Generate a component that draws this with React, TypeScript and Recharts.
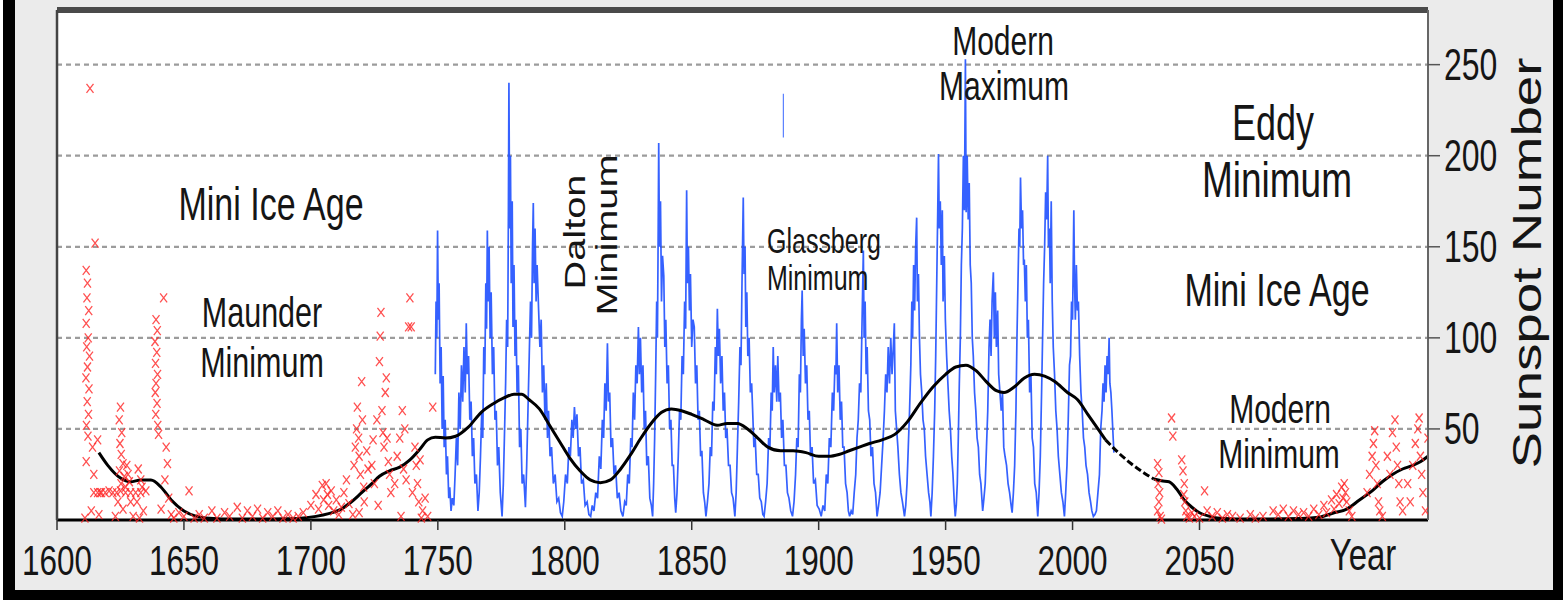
import React from 'react';
import {
  ComposedChart,
  Line,
  Scatter,
  XAxis,
  YAxis,
  CartesianGrid,
  ReferenceLine,
} from 'recharts';

// x ticks (years) and right-hand y ticks (sunspot number)
const yearTicks = [1600, 1650, 1700, 1750, 1800, 1850, 1900, 1950, 2000, 2050];
const sunspotTicks = [50, 100, 150, 200, 250];
const leftTicks = [0, 50, 100, 150, 200, 250];

const observed: [number, number][] = [
  [1749.0, 80], [1749.3, 120], [1749.6, 100], [1749.9, 159], [1750.2, 110], [1750.5, 130], [1750.9, 75], [1751.3, 95], [1751.7, 50], [1752.1, 79], [1752.5, 40], [1752.9, 55], [1753.4, 25], [1753.8, 35], [1754.3, 12], [1754.7, 18], [1755.2, 5],
  [1755.7, 12], [1756.3, 8], [1756.8, 25], [1757.3, 45], [1757.8, 30], [1758.3, 70], [1758.8, 50], [1759.3, 85], [1759.8, 65], [1760.3, 95], [1760.8, 70], [1761.2, 108], [1761.6, 80], [1762.1, 90], [1762.6, 55], [1763.1, 65], [1763.6, 35], [1764.1, 45], [1764.6, 20], [1765.2, 25], [1765.8, 5],
  [1766.3, 15], [1766.8, 35], [1767.3, 60], [1767.7, 45], [1768.1, 95], [1768.5, 80], [1768.9, 130], [1769.2, 105], [1769.5, 159], [1769.8, 120], [1770.2, 150], [1770.6, 100], [1771.0, 125], [1771.5, 80], [1772.0, 95], [1772.5, 55], [1773.0, 60], [1773.5, 30], [1774.0, 40], [1774.6, 15], [1775.3, 2],
  [1775.8, 20], [1776.3, 50], [1776.7, 75], [1777.1, 110], [1777.5, 95], [1777.8, 170], [1778.0, 240], [1778.3, 160], [1778.6, 200], [1778.9, 130], [1779.3, 175], [1779.6, 106], [1780.0, 140], [1780.4, 90], [1780.8, 110], [1781.2, 70], [1781.7, 85], [1782.2, 40], [1782.7, 50], [1783.2, 20], [1783.8, 25], [1784.5, 7],
  [1785.0, 30], [1785.5, 60], [1786.0, 90], [1786.5, 120], [1786.9, 100], [1787.3, 150], [1787.6, 174], [1787.9, 130], [1788.3, 160], [1788.7, 120], [1789.1, 140], [1789.7, 115], [1790.2, 95], [1790.7, 110], [1791.2, 70], [1791.7, 85], [1792.2, 55], [1792.7, 75], [1793.2, 45], [1793.6, 60], [1794.2, 35], [1794.8, 40], [1795.5, 20], [1796.2, 25], [1796.9, 10], [1797.6, 12], [1798.3, 4], [1799.0, 2],
  [1799.6, 10], [1800.3, 25], [1801.0, 20], [1801.6, 40], [1802.2, 35], [1802.8, 55], [1803.3, 45], [1803.8, 62], [1804.3, 50], [1804.8, 58], [1805.4, 35], [1806.0, 40], [1806.6, 20], [1807.3, 22], [1808.0, 8], [1808.8, 10], [1809.5, 3], [1810.2, 2],
  [1810.8, 8], [1811.5, 5], [1812.2, 15], [1812.9, 12], [1813.6, 35], [1814.2, 28], [1814.8, 55], [1815.3, 45], [1815.8, 75], [1816.3, 60], [1816.8, 97], [1817.2, 65], [1817.7, 70], [1818.2, 40], [1818.8, 45], [1819.4, 25], [1820.0, 30], [1820.7, 12], [1821.4, 15], [1822.1, 5], [1822.9, 2],
  [1823.6, 10], [1824.2, 8], [1824.8, 25], [1825.4, 20], [1826.0, 45], [1826.5, 40], [1827.0, 70], [1827.5, 55], [1828.0, 85], [1828.5, 75], [1829.0, 106], [1829.4, 80], [1829.8, 100], [1830.3, 70], [1830.8, 85], [1831.3, 50], [1831.8, 60], [1832.3, 30], [1832.9, 35], [1833.5, 12], [1834.1, 8], [1834.6, 2],
  [1835.0, 20], [1835.4, 45], [1835.8, 80], [1836.2, 120], [1836.5, 100], [1836.8, 160], [1837.0, 207], [1837.3, 150], [1837.7, 175], [1838.1, 120], [1838.5, 145], [1839.0, 134], [1839.4, 95], [1839.8, 110], [1840.3, 75], [1840.8, 85], [1841.3, 50], [1841.8, 55], [1842.3, 30], [1842.8, 30], [1843.3, 12], [1843.7, 4],
  [1844.2, 15], [1844.7, 35], [1845.2, 60], [1845.7, 55], [1846.2, 90], [1846.7, 80], [1847.2, 120], [1847.6, 105], [1848.0, 181], [1848.3, 130], [1848.7, 150], [1849.1, 115], [1849.5, 135], [1850.0, 95], [1850.5, 110], [1851.0, 106], [1851.5, 75], [1852.0, 85], [1852.5, 55], [1853.0, 60], [1853.5, 35], [1854.0, 38], [1854.6, 15], [1855.1, 10], [1855.6, 2],
  [1856.2, 10], [1856.8, 20], [1857.3, 40], [1857.8, 35], [1858.3, 65], [1858.8, 60], [1859.3, 95], [1859.7, 80], [1860.1, 116], [1860.5, 90], [1860.9, 105], [1861.4, 75], [1861.9, 90], [1862.4, 60], [1862.9, 70], [1863.4, 45], [1863.9, 50], [1864.5, 30], [1865.1, 30], [1865.7, 15], [1866.3, 12], [1867.0, 2],
  [1867.5, 15], [1868.0, 40], [1868.5, 65], [1869.0, 95], [1869.4, 85], [1869.8, 130], [1870.3, 177], [1870.6, 135], [1871.0, 150], [1871.3, 106], [1871.7, 125], [1872.1, 90], [1872.6, 100], [1873.1, 70], [1873.6, 75], [1874.0, 60], [1874.5, 40], [1875.0, 45], [1875.6, 25], [1876.2, 25], [1876.8, 12], [1877.4, 10], [1878.0, 3], [1878.5, 2],
  [1879.1, 10], [1879.7, 20], [1880.3, 45], [1880.8, 40], [1881.3, 70], [1881.7, 60], [1882.1, 95], [1882.5, 70], [1883.0, 85], [1883.5, 65], [1883.9, 90], [1884.4, 65], [1884.9, 70], [1885.4, 45], [1885.9, 55], [1886.5, 30], [1887.1, 30], [1887.7, 15], [1888.3, 12], [1889.0, 5], [1889.7, 2],
  [1890.3, 10], [1890.9, 25], [1891.4, 45], [1891.9, 40], [1892.4, 80], [1892.8, 70], [1893.2, 110], [1893.5, 126], [1893.9, 90], [1894.3, 105], [1894.8, 75], [1895.3, 85], [1895.8, 55], [1896.3, 60], [1896.8, 35], [1897.4, 40], [1898.0, 20], [1898.7, 22], [1899.4, 8], [1900.2, 6], [1901.0, 2],
  [1901.7, 8], [1902.4, 5], [1903.0, 25], [1903.6, 20], [1904.2, 45], [1904.8, 40], [1905.4, 70], [1905.9, 60], [1906.4, 85], [1906.8, 80], [1907.1, 108], [1907.5, 70], [1908.0, 85], [1908.5, 55], [1909.0, 65], [1909.5, 40], [1910.0, 40], [1910.6, 20], [1911.2, 15], [1911.7, 5], [1912.2, 2],
  [1912.8, 5], [1913.4, 3], [1914.0, 15], [1914.6, 25], [1915.1, 45], [1915.6, 55], [1916.1, 75], [1916.6, 70], [1917.1, 110], [1917.6, 148], [1917.9, 100], [1918.3, 120], [1918.7, 80], [1919.1, 95], [1919.6, 60], [1920.1, 55], [1920.6, 35], [1921.2, 40], [1921.8, 20], [1922.4, 15], [1923.0, 2],
  [1923.6, 8], [1924.2, 15], [1924.8, 30], [1925.4, 45], [1925.9, 60], [1926.4, 80], [1926.9, 70], [1927.4, 95], [1927.9, 75], [1928.4, 100], [1928.9, 80], [1929.4, 95], [1929.8, 108], [1930.2, 60], [1930.7, 50], [1931.2, 40], [1931.8, 25], [1932.4, 15], [1933.0, 10], [1933.8, 2],
  [1934.3, 8], [1934.8, 20], [1935.3, 40], [1935.8, 60], [1936.3, 85], [1936.7, 120], [1937.0, 100], [1937.4, 140], [1937.8, 115], [1938.2, 150], [1938.6, 166], [1938.9, 120], [1939.3, 135], [1939.7, 100], [1940.1, 80], [1940.6, 70], [1941.1, 55], [1941.6, 50], [1942.1, 35], [1942.7, 25], [1943.3, 15], [1943.8, 10], [1944.2, 2],
  [1944.7, 15], [1945.2, 35], [1945.7, 60], [1946.1, 90], [1946.5, 130], [1946.9, 170], [1947.2, 201], [1947.5, 160], [1947.9, 175], [1948.3, 140], [1948.7, 170], [1949.0, 120], [1949.5, 145], [1949.9, 110], [1950.4, 90], [1950.9, 75], [1951.4, 60], [1951.9, 50], [1952.4, 35], [1952.9, 25], [1953.4, 10], [1953.8, 2],
  [1954.2, 8], [1954.6, 20], [1955.0, 45], [1955.4, 75], [1955.8, 100], [1956.2, 140], [1956.6, 160], [1957.0, 200], [1957.4, 170], [1957.8, 253], [1958.1, 169], [1958.5, 200], [1958.9, 165], [1959.3, 185], [1959.7, 140], [1960.1, 130], [1960.5, 100], [1960.9, 90], [1961.4, 70], [1961.9, 60], [1962.4, 45], [1962.9, 40], [1963.4, 25], [1963.9, 20], [1964.6, 5],
  [1965.1, 12], [1965.6, 20], [1966.1, 40], [1966.6, 60], [1967.1, 95], [1967.5, 110], [1967.9, 90], [1968.3, 120], [1968.8, 136], [1969.2, 100], [1969.6, 125], [1970.0, 95], [1970.5, 115], [1970.9, 80], [1971.4, 70], [1971.9, 60], [1972.4, 70], [1972.9, 40], [1973.4, 35], [1974.0, 30], [1974.6, 20], [1975.2, 15], [1975.8, 8], [1976.2, 4],
  [1976.7, 15], [1977.2, 30], [1977.7, 60], [1978.1, 100], [1978.5, 130], [1978.9, 160], [1979.2, 150], [1979.5, 188], [1979.9, 160], [1980.3, 170], [1980.7, 140], [1981.0, 143], [1981.4, 120], [1981.8, 140], [1982.2, 100], [1982.6, 110], [1983.1, 70], [1983.6, 80], [1984.1, 45], [1984.6, 40], [1985.1, 20], [1985.7, 15], [1986.3, 2],
  [1986.8, 15], [1987.3, 35], [1987.8, 70], [1988.2, 100], [1988.6, 130], [1989.0, 150], [1989.4, 180], [1989.8, 165], [1990.2, 200], [1990.5, 150], [1990.9, 160], [1991.2, 130], [1991.6, 175], [1992.0, 120], [1992.4, 95], [1992.9, 80], [1993.4, 60], [1993.9, 50], [1994.4, 35], [1995.0, 25], [1995.6, 15], [1996.2, 10], [1996.8, 2],
  [1997.3, 15], [1997.8, 30], [1998.3, 55], [1998.8, 85], [1999.2, 90], [1999.6, 120], [2000.0, 110], [2000.5, 170], [2000.8, 130], [2001.1, 110], [2001.5, 140], [2001.9, 115], [2002.3, 120], [2002.8, 90], [2003.3, 70], [2003.8, 60], [2004.3, 45], [2004.8, 40], [2005.3, 30], [2005.9, 25], [2006.5, 15], [2007.1, 10], [2007.6, 5], [2008.2, 2],
  [2008.8, 3], [2009.4, 5], [2010.0, 15], [2010.6, 25], [2011.1, 50], [2011.6, 60], [2012.0, 75], [2012.4, 65], [2012.8, 85], [2013.2, 70], [2013.6, 90], [2014.0, 80], [2014.4, 100], [2014.7, 75], [2015.1, 70], [2015.5, 60], [2016.0, 45], [2016.3, 37],
];

// stray vertical stroke near 1886
const strayStroke: [number, number][] = [[1886.1, 210], [1886.1, 234]];

// reconstructed / forecast values (red crosses)
const reconstructed: [number, number][] = [
  [1613, 237], [1615, 152], [1611.5, 137], [1612, 130], [1611.8, 122], [1612.5, 115], [1611.5, 108], [1612.3, 100], [1611.7, 95], [1612.8, 90], [1612, 84], [1611.4, 78], [1612.6, 72], [1611.9, 65], [1612.4, 58], [1611.6, 52], [1612.2, 46], [1614, 40], [1611.5, 32], [1616, 44], [1614.5, 25], [1617, 15], [1613.5, 5], [1616.5, 3], [1611, 1],
  [1614.5, 15], [1616, 15], [1617.5, 15], [1619, 15], [1620.5, 16], [1622, 15], [1623.5, 15], [1625, 16], [1627, 15], [1629, 15], [1631, 15], [1633, 15], [1635, 16],
  [1625, 62], [1624.5, 55], [1625.5, 48], [1624.8, 42], [1625.3, 36], [1626, 31], [1624.6, 27], [1626.5, 24], [1625.2, 20], [1627, 18], [1624, 10], [1626, 6], [1623, 2], [1627.5, 30], [1628, 25], [1628.5, 21], [1629, 10],
  [1632, 28], [1633, 22], [1633.5, 18], [1631.5, 10], [1634, 5], [1630, 2], [1632.5, 1],
  [1642, 122], [1639, 110], [1639.5, 104], [1638.6, 98], [1639.3, 92], [1638.8, 86], [1639.6, 80], [1639, 75], [1638.7, 70], [1639.4, 64], [1638.9, 58], [1639.7, 52], [1640, 47], [1643, 40], [1643.5, 31], [1642.5, 22], [1644, 12], [1641, 6], [1645, 3], [1646, 1], [1648, 4],
  [1652, 16], [1650, 2], [1654, 1], [1656, 3], [1658, 1], [1661, 5], [1663, 1], [1666, 4], [1668, 2], [1671, 7], [1673, 1], [1675, 5], [1677, 2], [1679, 6], [1681, 1], [1683, 4], [1685, 2], [1687, 5], [1689, 1], [1691, 3], [1693, 1], [1695, 2], [1697, 4],
  [1700, 8], [1702, 14], [1703, 6], [1704.5, 19], [1705, 11], [1706, 20], [1706.5, 14], [1707, 8], [1708, 16], [1709, 5], [1710, 11], [1711, 3], [1712, 7], [1713, 15], [1714, 22], [1715, 9],
  [1717, 30], [1717.5, 40], [1718, 50], [1718.3, 62], [1718.8, 45], [1719, 35], [1719.5, 25], [1720, 76], [1720.3, 55], [1720.8, 18], [1721, 10], [1722, 38], [1722.5, 28], [1716.5, 3], [1719, 4],
  [1724, 30], [1724.5, 44], [1725, 20], [1726, 55], [1727, 87], [1727.3, 101], [1727.6, 114], [1728, 60], [1728.4, 48], [1728.8, 40], [1729.3, 70], [1729.7, 78], [1730, 45], [1730.5, 32], [1731, 25], [1731.5, 15], [1726.5, 8],
  [1733, 20], [1734, 35], [1735, 45], [1736, 60], [1736.5, 28], [1737, 50], [1737.5, 22], [1738.5, 106], [1739, 122], [1739.5, 106], [1740, 15], [1741, 40], [1741.5, 30], [1742, 20], [1742.5, 10], [1743, 33], [1744, 5], [1745, 12], [1746, 2], [1748, 62], [1735.5, 2], [1743.5, 1],
  [2033.5, 31], [2034, 26], [2033.7, 20], [2034.3, 15], [2034, 10], [2033.5, 5], [2034.5, 2], [2035, 0.5],
  [2039, 56], [2039.5, 46],
  [2043, 33], [2043.5, 27], [2044, 20], [2043.8, 14], [2044.2, 10], [2044.6, 5], [2045, 2], [2046, 1], [2047, 4], [2048, 2],
  [2052, 16], [2050, 1], [2053, 5], [2055, 2], [2057, 4], [2059, 1], [2061, 3], [2063, 2], [2066, 1], [2070, 3], [2072, 1], [2075, 2], [2079, 5], [2081, 3], [2083, 6], [2085, 2], [2087, 5], [2089, 3], [2091, 4], [2093, 2],
  [2095, 6], [2097, 3], [2099, 8], [2100, 4], [2102, 11], [2103, 6], [2104, 14], [2105, 9], [2106, 18], [2106.5, 12], [2107, 20], [2107.5, 15], [2108, 10], [2109, 5], [2110, 2],
  [2116, 15], [2117, 25], [2118, 35], [2118.5, 42], [2119, 49], [2119.5, 30], [2120, 20], [2120.5, 10], [2121, 5], [2122, 2],
  [2124, 35], [2125, 25], [2126, 48], [2127, 55], [2127.5, 40], [2128, 30], [2128.5, 20], [2129, 10], [2130, 5],
  [2132, 20], [2133, 10], [2134, 30], [2135, 42], [2136, 50], [2136.5, 56], [2137, 35], [2137.5, 25], [2138, 15], [2139, 5], [2140, 45],
];

// smoothed trend, split where the picture switches to a dashed stroke
const trendPast: [number, number][] = [
  [1616.5, 37], [1620, 30], [1625, 23], [1629, 21], [1633, 22], [1637, 22], [1641, 18], [1645, 11], [1650, 5], [1655, 2], [1660, 1], [1670, 0.5], [1680, 0.5], [1690, 0.7], [1696, 1],
  [1702, 2], [1707, 3.5], [1712, 6], [1716, 10], [1720, 15], [1724, 20], [1727, 24], [1731, 27], [1735, 29], [1739, 33], [1743, 39], [1746, 44], [1749, 45.5], [1753, 45], [1757, 46],
  [1762, 51], [1767, 59], [1772, 64], [1776, 67], [1780, 69], [1783, 69], [1786, 66], [1790, 61], [1794, 52], [1798, 43], [1802, 34], [1806, 27], [1810, 22], [1814, 20.5], [1818, 22],
  [1822, 28], [1826, 36], [1830, 45], [1834, 53], [1838, 59], [1842, 61], [1846, 60], [1850, 58], [1855, 55], [1860, 52], [1864, 53], [1868, 53], [1872, 50], [1876, 45], [1880, 40],
  [1885, 38], [1890, 38], [1895, 37], [1900, 35], [1904, 35], [1908, 36], [1912, 38], [1916, 40], [1920, 42], [1925, 44], [1930, 47], [1935, 54], [1940, 64], [1945, 73], [1950, 80],
  [1954, 84], [1958, 85], [1962, 82], [1966, 76], [1970, 71], [1973, 70], [1977, 73], [1981, 78], [1985, 80], [1989, 79], [1993, 76], [1998, 70], [2002, 66], [2006, 58], [2010, 50], [2013, 44],
];
const trendGap: [number, number][] = [[2013, 44], [2018, 37], [2023, 31], [2028, 26], [2032, 22.5]];
const trendFuture: [number, number][] = [
  [2032, 22.5], [2035, 21.5], [2038, 21], [2041, 17], [2044, 11], [2047, 7], [2050, 4], [2054, 2], [2058, 1], [2070, 0.5], [2090, 0.8], [2097, 1.5],
  [2103, 4], [2108, 6], [2113, 11], [2118, 16], [2122, 21], [2126, 25], [2130, 28], [2134, 30], [2137, 32], [2140, 35],
];

const rows = (pts: [number, number][]) => pts.map(([year, v]) => ({ year, v }));

const FONT = '"Liberation Sans", Arial, Helvetica, sans-serif';
const STRETCH = 1.37; // the source image is squeezed horizontally

function Txt({ x, y, size, children, anchor = 'middle', rotate = false }: any) {
  const t = rotate
    ? `translate(${x},${y}) rotate(-90) scale(${STRETCH},1)`
    : `translate(${x},${y}) scale(1,${STRETCH})`;
  return (
    <text transform={t} textAnchor={anchor} fontSize={size} fontFamily={FONT} fill="#151515">
      {children}
    </text>
  );
}

function YearTick({ x, y, payload }: any) {
  return <Txt x={x} y={y + 43} size={31.5}>{payload.value}</Txt>;
}

function SunspotTick({ x, y, payload }: any) {
  return <Txt x={x + 2} y={y + 15.5} size={32} anchor="start">{payload.value}</Txt>;
}

function Cross({ cx, cy }: any) {
  if (cx == null || cy == null) return <g />;
  return (
    <path
      d={`M${cx - 3.5},${cy - 4.5}L${cx + 3.5},${cy + 4.5}M${cx - 3.5},${cy + 4.5}L${cx + 3.5},${cy - 4.5}`}
      stroke="#ff2424"
      strokeWidth={1.3}
      opacity={0.8}
      fill="none"
    />
  );
}

export default function App() {
  const box = (s: React.CSSProperties) => <div style={{ position: 'absolute', ...s }} />;
  return (
    <div style={{ position: 'absolute', left: 0, top: 0, width: 1565, height: 600, background: '#fff', overflow: 'hidden' }}>
      {box({ left: 15, top: 0, width: 1538, height: 590, background: '#ebebeb' })}
      {box({ left: 3, top: 0, width: 12, height: 600, background: '#000' })}
      {box({ left: 3, top: 590, width: 1560, height: 10, background: '#000' })}
      {box({ left: 1553, top: 0, width: 10, height: 600, background: '#000' })}
      <div style={{ position: 'absolute', left: 0, top: 0 }}>
        <ComposedChart width={1565} height={600} margin={{ top: 10, right: 37, bottom: 20, left: 45 }}>
          <CartesianGrid yAxisId="r" vertical={false} strokeDasharray="5 4" stroke="#9c9c9c" strokeWidth={2.2} fill="#fff" />
          <XAxis
            dataKey="year"
            type="number"
            domain={[1600, 2140]}
            ticks={yearTicks}
            height={60}
            tickSize={10}
            tick={YearTick}
            axisLine={{ stroke: '#000', strokeWidth: 3 }}
            tickLine={{ stroke: '#333', strokeWidth: 1.5 }}
            allowDataOverflow
          />
          <YAxis
            yAxisId="l"
            orientation="left"
            type="number"
            domain={[0, 280]}
            ticks={leftTicks}
            width={12}
            tickSize={12}
            tick={() => <g />}
            axisLine={{ stroke: '#444', strokeWidth: 2.5 }}
            tickLine={{ stroke: '#333', strokeWidth: 2 }}
          />
          <YAxis
            yAxisId="r"
            orientation="right"
            type="number"
            domain={[0, 280]}
            ticks={sunspotTicks}
            width={100}
            tickSize={12}
            tick={SunspotTick}
            axisLine={{ stroke: '#666', strokeWidth: 2 }}
            tickLine={{ stroke: '#555', strokeWidth: 1.5 }}
          />
          <ReferenceLine yAxisId="r" y={280} stroke="#4a4a4a" strokeWidth={6} />
          <Scatter yAxisId="r" data={rows(reconstructed)} dataKey="v" shape={Cross} isAnimationActive={false} />
          <Line yAxisId="r" data={rows(observed)} dataKey="v" type="linear" stroke="#1f50ff" strokeWidth={1.7} strokeOpacity={0.9} dot={false} isAnimationActive={false} />
          <Line yAxisId="r" data={rows(strayStroke)} dataKey="v" type="linear" stroke="#5a80ff" strokeWidth={1.2} dot={false} isAnimationActive={false} />
          <Line yAxisId="r" data={rows(trendPast)} dataKey="v" type="monotone" stroke="#000" strokeWidth={3} dot={false} isAnimationActive={false} />
          <Line yAxisId="r" data={rows(trendGap)} dataKey="v" type="monotone" stroke="#000" strokeWidth={3} strokeDasharray="7 3" dot={false} isAnimationActive={false} />
          <Line yAxisId="r" data={rows(trendFuture)} dataKey="v" type="monotone" stroke="#000" strokeWidth={3} dot={false} isAnimationActive={false} />
        </ComposedChart>
      </div>
      <svg width={1565} height={600} style={{ position: 'absolute', left: 0, top: 0, pointerEvents: 'none' }}>
        <Txt x={271} y={220} size={34}>Mini Ice Age</Txt>
        <Txt x={262} y={327} size={30.5}>Maunder</Txt>
        <Txt x={262} y={377} size={30.5}>Minimum</Txt>
        <Txt x={585} y={232} size={29} rotate>Dalton</Txt>
        <Txt x={617} y={235} size={29} rotate>Minimum</Txt>
        <Txt x={767} y={253} size={25} anchor="start">Glassberg</Txt>
        <Txt x={767} y={290} size={25} anchor="start">Minimum</Txt>
        <Txt x={1003} y={55} size={30}>Modern</Txt>
        <Txt x={1004} y={100} size={30}>Maximum</Txt>
        <Txt x={1273} y={140} size={36}>Eddy</Txt>
        <Txt x={1277} y={197} size={37}>Minimum</Txt>
        <Txt x={1277} y={306} size={34}>Mini Ice Age</Txt>
        <Txt x={1280} y={423} size={30}>Modern</Txt>
        <Txt x={1279} y={468} size={30}>Minimum</Txt>
        <Txt x={1363} y={570} size={33}>Year</Txt>
        <Txt x={1541} y={263} size={40} rotate>Sunspot Number</Txt>
      </svg>
    </div>
  );
}
